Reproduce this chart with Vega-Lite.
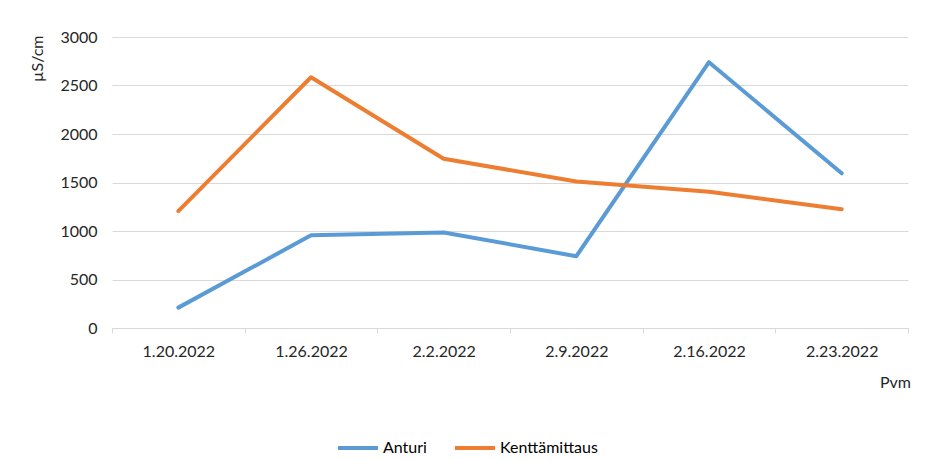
{
  "$schema": "https://vega.github.io/schema/vega-lite/v6.json",
  "width": 796,
  "height": 291,
  "autosize": {"type": "none"},
  "padding": {"left": 112, "top": 37, "right": 17, "bottom": 133},
  "background": "white",
  "config": {
    "view": {"stroke": null},
    "font": "Lato",
    "axis": {"labelFont": "Lato", "titleFont": "Lato", "labelColor": "#262626", "titleColor": "#262626"}
  },
  "data": {
    "values": [
      {"date": "1.20.2022", "series": "Anturi", "value": 210},
      {"date": "1.26.2022", "series": "Anturi", "value": 955},
      {"date": "2.2.2022", "series": "Anturi", "value": 985},
      {"date": "2.9.2022", "series": "Anturi", "value": 740},
      {"date": "2.16.2022", "series": "Anturi", "value": 2740},
      {"date": "2.23.2022", "series": "Anturi", "value": 1595},
      {"date": "1.20.2022", "series": "Kenttämittaus", "value": 1205},
      {"date": "1.26.2022", "series": "Kenttämittaus", "value": 2585},
      {"date": "2.2.2022", "series": "Kenttämittaus", "value": 1745},
      {"date": "2.9.2022", "series": "Kenttämittaus", "value": 1510},
      {"date": "2.16.2022", "series": "Kenttämittaus", "value": 1405},
      {"date": "2.23.2022", "series": "Kenttämittaus", "value": 1225}
    ]
  },
  "mark": {"type": "line", "strokeWidth": 4, "strokeCap": "round", "strokeJoin": "round"},
  "encoding": {
    "x": {
      "field": "date",
      "type": "ordinal",
      "sort": null,
      "bandPosition": 0.5,
      "scale": {"type": "band", "paddingInner": 0, "paddingOuter": 0},
      "axis": {
        "title": "Pvm",
        "titleFontSize": 16,
        "titleFontWeight": "normal",
        "titleX": 783,
        "titleY": 54,
        "titleAlign": "center",
        "titleBaseline": "middle",
        "labelAngle": 0,
        "labelFontSize": 16,
        "labelPadding": 10,
        "domainColor": "#d9d9d9",
        "domainWidth": 1,
        "tickColor": "#d9d9d9",
        "tickSize": 5,
        "tickBand": "extent",
        "grid": false
      }
    },
    "y": {
      "field": "value",
      "type": "quantitative",
      "scale": {"domain": [0, 3000], "nice": false},
      "axis": {
        "title": "µS/cm",
        "titleFontSize": 16,
        "titleFontWeight": "normal",
        "titleAngle": -90,
        "titleX": -75,
        "titleY": -2,
        "titleAlign": "right",
        "titleBaseline": "middle",
        "values": [0, 500, 1000, 1500, 2000, 2500, 3000],
        "format": "d",
        "labelFontSize": 16,
        "labelPadding": 15,
        "ticks": false,
        "domain": false,
        "grid": true,
        "gridColor": "#d9d9d9",
        "gridWidth": 1
      }
    },
    "color": {
      "field": "series",
      "type": "nominal",
      "scale": {"domain": ["Anturi", "Kenttämittaus"], "range": ["#5B9BD5", "#ED7D31"]},
      "legend": {
        "title": null,
        "orient": "none",
        "direction": "horizontal",
        "legendX": 224,
        "legendY": 389,
        "symbolType": "stroke",
        "symbolSize": 1600,
        "symbolStrokeWidth": 4,
        "labelFont": "Lato",
        "labelFontSize": 16,
        "labelColor": "#000000",
        "labelOffset": 3,
        "columnPadding": 20
      }
    }
  }
}
